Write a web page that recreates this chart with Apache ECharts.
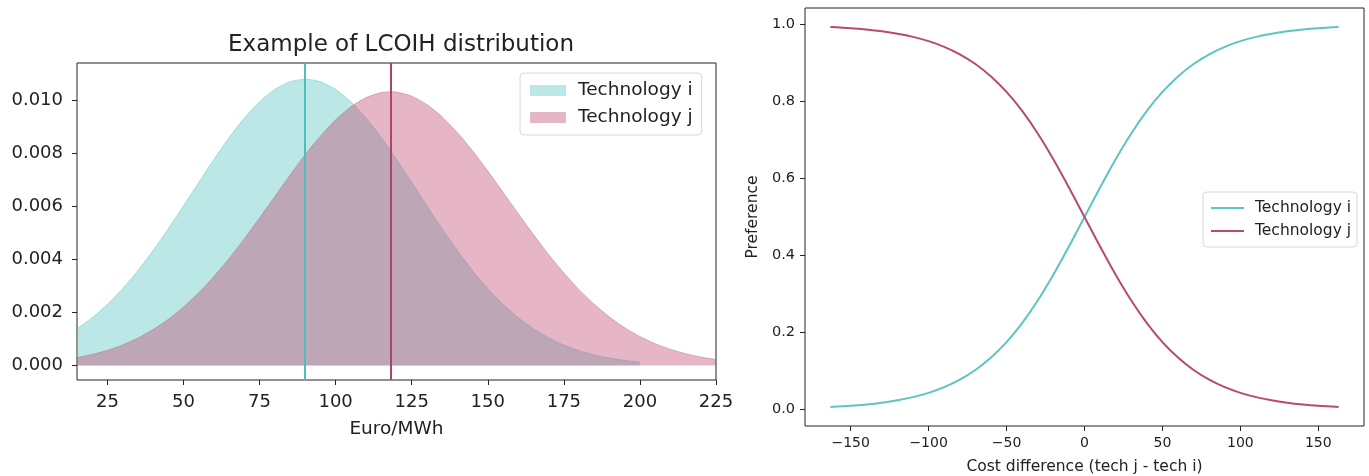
<!DOCTYPE html>
<html>
<head>
<meta charset="utf-8">
<script src="https://cdn.jsdelivr.net/npm/echarts@6/dist/echarts.min.js"></script>
<style>
html,body{margin:0;padding:0;background:#fff;}
#c{width:1369px;height:476px;}
</style>
</head>
<body>
<div id="c"></div>
<script>
// ---------- Left chart: LCOIH distribution ----------
var costX_i = [15,20,25,30,35,40,45,50,55,60,65,70,75,80,85,90,95,100,105,110,115,120,125,130,135,140,145,150,155,160,165,170,175,180,185,190,195,200];
var density_i = [0.001382,0.001801,0.002304,0.002895,0.003572,0.004327,0.005146,0.006011,0.006893,0.007761,0.008581,0.009317,0.009931,0.010395,0.010684,0.010782,0.010684,0.010395,0.009931,0.009317,0.008581,0.007761,0.006893,0.006011,0.005146,0.004327,0.003572,0.002895,0.002304,0.001801,0.001382,0.001041,0.000770,0.000559,0.000399,0.000279,0.000192,0.000130];
var costX_j = [15,20,25,30,35,40,45,50,55,60,65,70,75,80,85,90,95,100,105,110,115,118,120,125,130,135,140,145,150,155,160,165,170,175,180,185,190,195,200,205,210,215,220,225];
var density_j = [0.000299,0.000417,0.000574,0.000777,0.001034,0.001353,0.001740,0.002202,0.002740,0.003354,0.004036,0.004777,0.005561,0.006366,0.007167,0.007935,0.008640,0.009252,0.009744,0.010091,0.010278,0.010309,0.010295,0.010142,0.009825,0.009361,0.008771,0.008082,0.007323,0.006528,0.005721,0.004931,0.004180,0.003485,0.002857,0.002303,0.001826,0.001424,0.001093,0.000824,0.000611,0.000446,0.000320,0.000226];
var mean_i = 90;
var mean_j = 118;
var leftXTicks = [25,50,75,100,125,150,175,200,225];
var leftYTicks = [0,0.002,0.004,0.006,0.008,0.010];

// ---------- Right chart: preference ----------
var diffX = [-163,-150,-140,-130,-120,-110,-100,-90,-80,-70,-60,-50,-40,-30,-20,-10,0,10,20,30,40,50,60,70,80,90,100,110,120,130,140,150,163];
var pref_i = [0.00635,0.00947,0.01287,0.01745,0.02365,0.03195,0.04310,0.05787,0.07728,0.10246,0.13477,0.17512,0.22442,0.28290,0.34978,0.42312,0.5,0.57688,0.65022,0.71710,0.77558,0.82488,0.86523,0.89754,0.92272,0.94213,0.95690,0.96805,0.97635,0.98255,0.98713,0.99053,0.99365];
var pref_j = [0.99365,0.99053,0.98713,0.98255,0.97635,0.96805,0.95690,0.94213,0.92272,0.89754,0.86523,0.82488,0.77558,0.71710,0.65022,0.57688,0.5,0.42312,0.34978,0.28290,0.22442,0.17512,0.13477,0.10246,0.07728,0.05787,0.04310,0.03195,0.02365,0.01745,0.01287,0.00947,0.00635];
var rightXTicks = [-150,-100,-50,0,50,100,150];
var rightYTicks = [0,0.2,0.4,0.6,0.8,1.0];

var names = ['Technology i','Technology j'];
var TEAL_FILL = 'rgba(85,195,192,0.4)', PINK_FILL = 'rgba(193,73,113,0.4)';
var LINE_TEAL = '#5cc5c2', LINE_PINK = '#b84a72';
var FONT = 'DejaVu Sans';
var TXT = '#222';

function zip(a,b){ return a.map(function(v,k){ return [v,b[k]]; }); }
function mfmt(v){ return String(v).replace('-', '\u2212'); }

var chart = echarts.init(document.getElementById('c'), null, {renderer:'canvas'});
var tickStyle = function(vals){ return {show:true, inside:false, length:5, lineStyle:{color:'#222'}, customValues:vals}; };
var option = {
  animation:false,
  backgroundColor:'#fff',
  title:{
    text:'Example of LCOIH distribution',
    left:396, top:29, textAlign:'center',
    textStyle:{fontFamily:FONT, fontSize:23, fontWeight:'normal', color:TXT}
  },
  grid:[
    {left:77, top:63, width:639, height:317, show:true, borderColor:'#222', borderWidth:1, backgroundColor:'transparent', containLabel:false, outerBoundsMode:'none'},
    {left:805, top:8, width:559, height:418, show:true, borderColor:'#222', borderWidth:1, backgroundColor:'transparent', containLabel:false, outerBoundsMode:'none'}
  ],
  legend:[
    {
      left:520, top:73, orient:'vertical', itemGap:8, itemWidth:36, itemHeight:11,
      padding:[8,9,8,10],
      backgroundColor:'rgba(255,255,255,0.85)', borderColor:'#d8d8d8', borderWidth:1, borderRadius:4,
      textStyle:{fontFamily:FONT, fontSize:18.5, color:TXT, padding:[0,0,0,7]},
      selectedMode:false,
      data:[
        {name:names[0], icon:'rect', itemStyle:{color:TEAL_FILL, borderWidth:0}},
        {name:names[1], icon:'rect', itemStyle:{color:PINK_FILL, borderWidth:0}}
      ]
    },
    {
      left:1203, top:192, orient:'vertical', itemGap:7, itemWidth:33, itemHeight:2,
      padding:[8,6,8,8],
      backgroundColor:'rgba(255,255,255,0.85)', borderColor:'#d8d8d8', borderWidth:1, borderRadius:4,
      textStyle:{fontFamily:FONT, fontSize:15.5, color:TXT, padding:[0,0,0,6]},
      selectedMode:false,
      data:[
        {name:names[0], icon:'rect', itemStyle:{color:LINE_TEAL, borderWidth:0}},
        {name:names[1], icon:'rect', itemStyle:{color:LINE_PINK, borderWidth:0}}
      ]
    }
  ],
  xAxis:[
    {
      type:'value', gridIndex:0, min:15, max:225,
      name:'Euro/MWh', nameLocation:'middle', nameGap:40,
      nameTextStyle:{fontFamily:FONT, fontSize:18.5, color:TXT},
      axisLine:{show:false, onZero:false},
      axisTick:tickStyle(leftXTicks),
      axisLabel:{fontFamily:FONT, fontSize:18, color:TXT, margin:13, customValues:leftXTicks, formatter:function(v){return mfmt(v);}},
      splitLine:{show:false}
    },
    {
      type:'value', gridIndex:1, min:-179.3, max:179.3,
      name:'Cost difference (tech j - tech i)', nameLocation:'middle', nameGap:33,
      nameTextStyle:{fontFamily:FONT, fontSize:15.5, color:TXT},
      axisLine:{show:false, onZero:false},
      axisTick:tickStyle(rightXTicks),
      axisLabel:{fontFamily:FONT, fontSize:14, color:TXT, margin:10, customValues:rightXTicks, formatter:function(v){return mfmt(v);}},
      splitLine:{show:false}
    }
  ],
  yAxis:[
    {
      type:'value', gridIndex:0, min:-0.000545, max:0.01139,
      axisLine:{show:false, onZero:false},
      axisTick:tickStyle(leftYTicks),
      axisLabel:{fontFamily:FONT, fontSize:18, color:TXT, margin:14, customValues:leftYTicks, formatter:function(v){return v.toFixed(3);}},
      splitLine:{show:false}
    },
    {
      type:'value', gridIndex:1, min:-0.043, max:1.043,
      name:'Preference', nameLocation:'middle', nameGap:44, nameRotate:90,
      nameTextStyle:{fontFamily:FONT, fontSize:15.5, color:TXT},
      axisLine:{show:false, onZero:false},
      axisTick:tickStyle(rightYTicks),
      axisLabel:{fontFamily:FONT, fontSize:14.5, color:TXT, margin:10, customValues:rightYTicks, formatter:function(v){return v.toFixed(1);}},
      splitLine:{show:false}
    }
  ],
  series:[
    {
      name:names[0], type:'line', xAxisIndex:0, yAxisIndex:0,
      data:zip(costX_i, density_i), showSymbol:false, symbol:'none', smooth:0.2,
      lineStyle:{color:'rgba(85,195,192,0.45)', width:1},
      itemStyle:{color:TEAL_FILL},
      areaStyle:{color:TEAL_FILL, opacity:1},
      z:2,
      markLine:{
        silent:true, symbol:['none','none'], label:{show:false},
        lineStyle:{color:'#4fbdbb', width:2, type:'solid'},
        data:[{xAxis:mean_i}]
      }
    },
    {
      name:names[1], type:'line', xAxisIndex:0, yAxisIndex:0,
      data:zip(costX_j, density_j), showSymbol:false, symbol:'none', smooth:0.2,
      lineStyle:{color:'rgba(170,110,140,0.45)', width:1},
      itemStyle:{color:PINK_FILL},
      areaStyle:{color:PINK_FILL, opacity:1},
      z:3,
      markLine:{
        silent:true, symbol:['none','none'], label:{show:false},
        lineStyle:{color:'#b0426c', width:2, type:'solid'},
        data:[{xAxis:mean_j}]
      }
    },
    {
      name:names[0], type:'line', xAxisIndex:1, yAxisIndex:1,
      data:zip(diffX, pref_i), showSymbol:false, symbol:'none', smooth:0.3,
      lineStyle:{color:LINE_TEAL, width:2}, itemStyle:{color:LINE_TEAL}
    },
    {
      name:names[1], type:'line', xAxisIndex:1, yAxisIndex:1,
      data:zip(diffX, pref_j), showSymbol:false, symbol:'none', smooth:0.3,
      lineStyle:{color:LINE_PINK, width:2}, itemStyle:{color:LINE_PINK}
    }
  ]
};
chart.setOption(option);
</script>
</body>
</html>
